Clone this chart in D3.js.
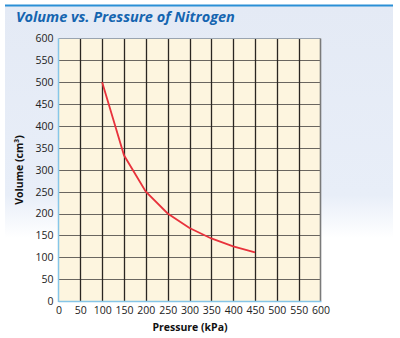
<!DOCTYPE html>
<html><head><meta charset="utf-8">
<script src="https://cdn.jsdelivr.net/npm/d3@7"></script>
<style>body{margin:0;background:#fff}svg{display:block}</style>
</head><body>
<svg id="c" width="400" height="338"></svg>
<script>
const pressure = [100, 150, 200, 250, 300, 350, 400, 450];
const volume = [500, 333, 250, 200, 167, 143, 125, 111];
const xTicks = [0,50,100,150,200,250,300,350,400,450,500,550,600];
const yTicks = [0,50,100,150,200,250,300,350,400,450,500,550,600];
const title = "Volume vs. Pressure of Nitrogen";
const xTitle = "Pressure (kPa)";
const yTitle = "Volume (cm³)";

const svg = d3.select("#c");
const defs = svg.append("defs");
const g = defs.append("linearGradient").attr("id","bg").attr("x1",0).attr("x2",0).attr("y1",0).attr("y2",1);
g.append("stop").attr("offset","0%").attr("stop-color","#e4eaf5");
g.append("stop").attr("offset","57%").attr("stop-color","#e8eef8");
g.append("stop").attr("offset","70%").attr("stop-color","#ffffff");
g.append("stop").attr("offset","100%").attr("stop-color","#ffffff");
svg.append("rect").attr("x",5).attr("y",5).attr("width",388).attr("height",333).attr("fill","url(#bg)");
svg.append("line").attr("x1",5).attr("x2",393).attr("y1",5.5).attr("y2",5.5).attr("stroke","#2a8fd6").attr("stroke-width",2);

svg.append("text").attr("x",16).attr("y",22).text(title)
  .attr("font-family","'Open Sans', sans-serif").attr("font-weight","bold").attr("font-style","italic")
  .attr("font-size",14.5).attr("fill","#1565b0");

const x = d3.scaleLinear().domain([0,600]).range([58.5,320.5]);
const y = d3.scaleLinear().domain([0,600]).range([301,38.5]);

svg.append("rect").attr("x",x(0)).attr("y",y(600)).attr("width",x(600)-x(0)).attr("height",y(0)-y(600)).attr("fill","#fdf5df");

// horizontal grid
svg.append("g").selectAll("line").data(yTicks.filter(d=>d>0&&d<600)).join("line")
  .attr("x1",x(0)).attr("x2",x(600)).attr("y1",d=>Math.round(y(d))+0.5).attr("y2",d=>Math.round(y(d))+0.5)
  .attr("stroke","#6a6660").attr("stroke-width",1);
// vertical grid
svg.append("g").selectAll("line").data(xTicks.filter(d=>d>0&&d<600)).join("line")
  .attr("y1",y(0)).attr("y2",y(600)).attr("x1",d=>Math.round(x(d))+0.5).attr("x2",d=>Math.round(x(d))+0.5)
  .attr("stroke","#2a2622").attr("stroke-width",1.3);
// borders
svg.append("line").attr("x1",x(0)).attr("x2",x(600)).attr("y1",y(600)).attr("y2",y(600)).attr("stroke","#9aa4b0").attr("stroke-width",1);
svg.append("line").attr("x1",x(600)).attr("x2",x(600)).attr("y1",y(600)).attr("y2",y(0)).attr("stroke","#7a7a7a").attr("stroke-width",1.6);
svg.append("line").attr("x1",x(0)).attr("x2",x(0)).attr("y1",y(600)).attr("y2",y(0)+1).attr("stroke","#86c6e8").attr("stroke-width",1.5);
svg.append("line").attr("x1",x(0)).attr("x2",x(600)+1).attr("y1",y(0)+0.5).attr("y2",y(0)+0.5).attr("stroke","#86c6e8").attr("stroke-width",1.5);

const font = "'Open Sans', sans-serif";
const xa = d3.axisBottom(x).tickValues(xTicks).tickSize(0).tickPadding(5);
const xg = svg.append("g").attr("transform",`translate(0,${y(0)+1})`).call(xa);
xg.select(".domain").remove();
xg.selectAll("text").attr("font-family",font).attr("font-size",10.5).attr("fill","#222");
const ya = d3.axisLeft(y).tickValues(yTicks).tickSize(0).tickPadding(5);
const yg = svg.append("g").attr("transform",`translate(${x(0)},0)`).call(ya);
yg.select(".domain").remove();
yg.selectAll("text").attr("font-family",font).attr("font-size",10.5).attr("fill","#222");

svg.append("text").attr("x",190).attr("y",331).attr("text-anchor","middle").text(xTitle)
  .attr("font-family",font).attr("font-weight","bold").attr("font-size",10.5).attr("fill","#111");
svg.append("text").attr("transform","translate(23,170) rotate(-90)").attr("text-anchor","middle").text(yTitle)
  .attr("font-family",font).attr("font-weight","bold").attr("font-size",10.5).attr("fill","#111");

const line = d3.line().x((d,i)=>x(pressure[i])).y(d=>y(d)).curve(d3.curveLinear);
svg.append("path").attr("d",line(volume)).attr("fill","none").attr("stroke","#e8323c").attr("stroke-width",1.8);
</script>
</body></html>
